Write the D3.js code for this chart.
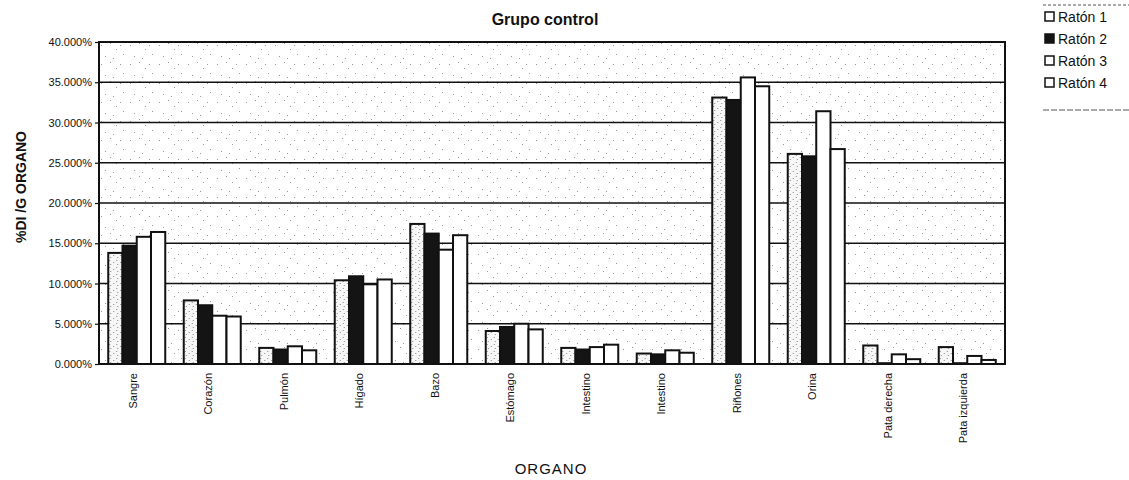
<!DOCTYPE html>
<html>
<head>
<meta charset="utf-8">
<script src="https://cdn.jsdelivr.net/npm/d3@7"></script>
<style>
  body { margin: 0; background: #fff; }
  text { font-family: "Liberation Sans", Arial, sans-serif; fill: #111; }
</style>
</head>
<body>
<div id="chart"></div>
<script>
var svgWidth = 1129;
var svgHeight = 480;

// Data (% DI / g organ)
var organs = ["Sangre", "Corazón", "Pulmón", "Hígado", "Bazo", "Estómago",
  "Intestino", "Intestino", "Riñones", "Orina", "Pata derecha", "Pata izquierda"];
var series = ["Ratón 1", "Ratón 2", "Ratón 3", "Ratón 4"];
var raton1 = [13.8, 7.9, 2.0, 10.4, 17.4, 4.1, 2.0, 1.3, 33.1, 26.1, 2.3, 2.1];
var raton2 = [14.7, 7.3, 1.8, 10.9, 16.2, 4.6, 1.8, 1.2, 32.8, 25.8, 0.1, 0.1];
var raton3 = [15.8, 6.0, 2.2, 9.9, 14.2, 5.0, 2.1, 1.7, 35.6, 31.4, 1.2, 1.0];
var raton4 = [16.4, 5.9, 1.7, 10.5, 16.0, 4.3, 2.4, 1.4, 34.5, 26.7, 0.6, 0.5];
var yTicks = [0, 0.05, 0.10, 0.15, 0.20, 0.25, 0.30, 0.35, 0.40];

var values = [raton1, raton2, raton3, raton4];
var fills = ["url(#dots)", "#141414", "#ffffff", "#ffffff"];

var margin = { top: 42, right: 124, bottom: 116, left: 99 };
var width = svgWidth - margin.left - margin.right;
var height = svgHeight - margin.top - margin.bottom;

var svg = d3.select("#chart")
  .append("svg")
  .attr("width", svgWidth)
  .attr("height", svgHeight);

// scanner-like speckle textures
var defs = svg.append("defs");
var bgPat = defs.append("pattern")
  .attr("id", "speck")
  .attr("patternUnits", "userSpaceOnUse")
  .attr("width", 29).attr("height", 19);
[[2, 3], [11, 1], [17, 7], [24, 12], [6, 14], [14, 16], [21, 3]].forEach(function(p) {
  bgPat.append("rect").attr("x", p[0]).attr("y", p[1])
    .attr("width", 1).attr("height", 1).attr("fill", "#9a9a9a");
});
var dotPat = defs.append("pattern")
  .attr("id", "dots")
  .attr("patternUnits", "userSpaceOnUse")
  .attr("width", 7).attr("height", 7);
dotPat.append("rect").attr("width", 7).attr("height", 7).attr("fill", "#f7f7f7");
[[1, 1], [5, 3], [2, 5]].forEach(function(p) {
  dotPat.append("rect").attr("x", p[0]).attr("y", p[1])
    .attr("width", 1).attr("height", 1).attr("fill", "#888");
});

var chartGroup = svg.append("g")
  .attr("transform", `translate(${margin.left}, ${margin.top})`);

// Scales
var x0 = d3.scaleBand()
  .domain(d3.range(organs.length))
  .range([0, width])
  .paddingInner(0.245)
  .paddingOuter(0.1225);

var x1 = d3.scaleBand()
  .domain(d3.range(series.length))
  .range([0, x0.bandwidth()])
  .padding(0);

var y = d3.scaleLinear()
  .domain([0, 0.40])
  .range([height, 0]);

// Plot background
chartGroup.append("rect")
  .attr("width", width)
  .attr("height", height)
  .attr("fill", "#fff");
chartGroup.append("rect")
  .attr("width", width)
  .attr("height", height)
  .attr("fill", "url(#speck)");

// Gridlines
chartGroup.selectAll(".grid")
  .data(yTicks.slice(1))
  .enter()
  .append("line")
  .attr("x1", 0)
  .attr("x2", width)
  .attr("y1", d => y(d))
  .attr("y2", d => y(d))
  .attr("stroke", "#111")
  .attr("stroke-width", 1.6);

// Y axis
var leftAxis = d3.axisLeft(y)
  .tickValues(yTicks)
  .tickFormat(d3.format(".3%"))
  .tickSize(4)
  .tickPadding(3);

var yAxisG = chartGroup.append("g").call(leftAxis);
yAxisG.select(".domain").remove();
yAxisG.selectAll("line").attr("stroke", "#111").attr("stroke-width", 1.2);
yAxisG.selectAll("text")
  .style("font-family", "'Liberation Sans', Arial, sans-serif")
  .style("font-size", "11px")
  .attr("fill", "#111");

// Bars
var groups = chartGroup.selectAll(".organ")
  .data(organs)
  .enter()
  .append("g")
  .attr("transform", (d, i) => `translate(${x0(i)}, 0)`);

groups.selectAll("rect")
  .data((d, i) => values.map((v, s) => ({ s: s, v: v[i] / 100 })))
  .enter()
  .append("rect")
  .attr("x", d => x1(d.s))
  .attr("y", d => y(d.v))
  .attr("width", x1.bandwidth())
  .attr("height", d => height - y(d.v))
  .attr("fill", d => fills[d.s])
  .attr("stroke", "#111")
  .attr("stroke-width", 2);

// Plot border
chartGroup.append("rect")
  .attr("width", width)
  .attr("height", height)
  .attr("fill", "none")
  .attr("stroke", "#111")
  .attr("stroke-width", 2);

// X labels (rotated)
chartGroup.selectAll(".xlabel")
  .data(organs)
  .enter()
  .append("text")
  .attr("transform", (d, i) =>
    `translate(${x0(i) + x0.bandwidth() / 2 - 4}, ${height + 9}) rotate(-90)`)
  .attr("dy", "0.35em")
  .style("text-anchor", "end")
  .style("font-size", "11px")
  .text(d => d);

// Titles
svg.append("text")
  .attr("x", 545)
  .attr("y", 25)
  .style("text-anchor", "middle")
  .style("font-size", "16px")
  .style("font-weight", "bold")
  .text("Grupo control");

svg.append("text")
  .attr("transform", "translate(26, 187) rotate(-90)")
  .style("text-anchor", "middle")
  .style("font-size", "14px")
  .style("font-weight", "bold")
  .text("%DI /G ORGANO");

svg.append("text")
  .attr("x", 551)
  .attr("y", 474)
  .style("text-anchor", "middle")
  .style("font-size", "15px")
  .style("letter-spacing", "1px")
  .text("ORGANO");

// Legend
var legend = svg.append("g").attr("transform", "translate(1043, 0)");
legend.append("line")
  .attr("x1", 0).attr("x2", 86).attr("y1", 5).attr("y2", 5)
  .attr("stroke", "#555").attr("stroke-width", 1).attr("stroke-dasharray", "3,2");
legend.append("line")
  .attr("x1", 0).attr("x2", 86).attr("y1", 110).attr("y2", 110)
  .attr("stroke", "#555").attr("stroke-width", 1).attr("stroke-dasharray", "6,2");

var items = legend.selectAll(".item")
  .data(series)
  .enter()
  .append("g")
  .attr("transform", (d, i) => `translate(2, ${22 + i * 22})`);

items.append("rect")
  .attr("x", 0)
  .attr("y", -10)
  .attr("width", 9)
  .attr("height", 9)
  .attr("fill", (d, i) => i === 1 ? fills[1] : "#fff")
  .attr("stroke", "#111")
  .attr("stroke-width", 1.5);

items.append("text")
  .attr("x", 13)
  .attr("y", 0)
  .style("font-size", "14px")
  .text(d => d);
</script>
</body>
</html>
